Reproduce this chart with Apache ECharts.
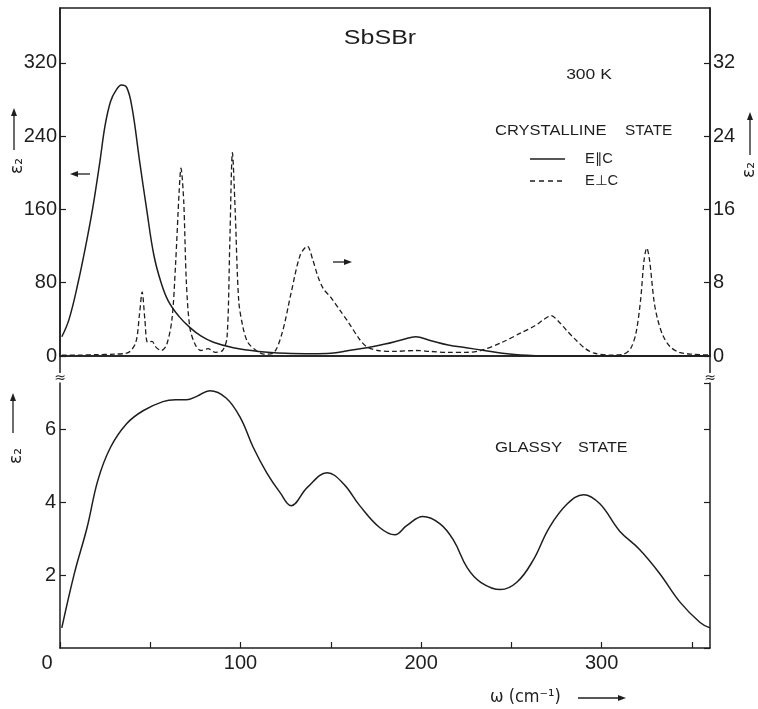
<!DOCTYPE html>
<html><head><meta charset="utf-8">
<script src="https://cdn.jsdelivr.net/npm/echarts@6.0.0/dist/echarts.min.js"></script>
<style>html,body{margin:0;padding:0;background:#fff}#c{width:758px;height:709px}</style>
</head><body><div id="c"></div>
<script>
// Crystalline E || c (left axis, eps2)
const omegaPar = [1,5,10,15,18,22,25,28,31,34,37,40,44,48,52,56,60,66,72,78,85,96,110,125,140,150,160,170,180,190,197,205,215,225,235,245,255,265,280,300,330,360];
const epsPar   = [21,40,80,128,160,211,252,278,290,296,293,270,214,160,110,80,60,43,31,22,15,9,5,3,2.5,3,6,9,13,18,21,17,12,9,6,3,1,0.3,0,0,0,0];
// Crystalline E _|_ c (right axis, eps2)
const omegaPerp = [1,10,20,30,38,42,44,45.5,47,48.5,51,53,56,59,62,64,66,67,68.5,70,72,75,78,82,86,90,92.5,94,95.5,97,99,101.5,104,108,113,118,123,128,133,137,140,143,146,150,155,160,166,170,176,185,197,205,215,225,233,245,255,263,268,272,276,281,286,291,296,305,312,316,319,321.5,323.5,325,326.5,329,331,334,338,343,350,360];
const epsPerp   = [0.1,0.1,0.15,0.2,0.4,1.5,4.5,7.0,4,1.5,1.6,1.0,0.6,1.2,4,10,18,20.5,17,8,3,1.2,0.6,0.8,0.4,0.6,2,12,22.2,16,6,3,1.5,0.7,0.2,0.3,2.5,6.9,11,12,10.5,8.6,7.3,6.4,5.0,3.6,1.8,1.0,0.6,0.5,0.6,0.5,0.4,0.4,0.6,1.5,2.5,3.3,4.0,4.4,3.8,2.7,1.7,0.8,0.3,0.1,0.2,0.8,2.5,6,10.5,11.8,10.5,6,4,2.2,1.0,0.4,0.2,0.1];
// Glassy state (bottom panel)
const omegaGlass = [1,8,15,21,28,37,46,57,64,70,76,83,92,100,107,114.5,122,128,137,148,157,166,177,185.5,192,201,210.5,218,225.5,233,244,253,262,271,281,290,299,310,321,332,343.5,354.5,360];
const epsGlass   = [0.55,2.05,3.3,4.6,5.5,6.15,6.5,6.75,6.8,6.8,6.9,7.05,6.85,6.3,5.5,4.8,4.25,3.9,4.4,4.8,4.5,3.9,3.3,3.1,3.35,3.6,3.4,2.95,2.2,1.8,1.6,1.8,2.4,3.3,3.95,4.2,3.95,3.2,2.7,2.05,1.25,0.7,0.55];
const xTickLabels = [0,100,200,300];
const leftTicksTop = [0,80,160,240,320];
const rightTicksTop = [0,8,16,24,32];
const glassTicks = [2,4,6];

const zip = (a,b)=>a.map((v,i)=>[v,b[i]]);
const INK = '#1e1e1e';
const FONT = '"Liberation Sans", Arial, sans-serif';

function arrow(x1,y1,x2,y2){
  const ang=Math.atan2(y2-y1,x2-x1), L=8, W=3;
  const bx=x2-L*Math.cos(ang), by=y2-L*Math.sin(ang);
  const px=-Math.sin(ang)*W, py=Math.cos(ang)*W;
  return [
    {type:'line',shape:{x1:x1,y1:y1,x2:bx,y2:by},style:{stroke:INK,lineWidth:1.3}},
    {type:'polygon',shape:{points:[[x2,y2],[bx+px,by+py],[bx-px,by-py]]},style:{fill:INK}}
  ];
}
function txt(x,y,s,size,opts){
  opts=opts||{};
  return {type:'text',x:x,y:y,scaleX:opts.sx||1,rotation:opts.rot||0,
    style:{text:s,fill:INK,font:(size)+'px '+(opts.font||FONT),textAlign:opts.align||'left',textVerticalAlign:'middle'}};
}

const graphics = [].concat(
  [txt(380,38,'SbSBr',20,{align:'center',sx:1.25}),
   txt(589,75,'300 K',14,{align:'center',sx:1.25}),
   txt(495,131,'CRYSTALLINE',14,{sx:1.18}),
   txt(625,131,'STATE',14,{sx:1.1}),
   {type:'line',shape:{x1:530,y1:159,x2:565,y2:159},style:{stroke:INK,lineWidth:1.4}},
   {type:'line',shape:{x1:530,y1:181,x2:565,y2:181},style:{stroke:INK,lineWidth:1.3,lineDash:[5,4]}},
   txt(585,159,'E\u2225C',14,{sx:1.05}),
   txt(585,181,'E\u22a5C',14,{sx:1.05}),
   txt(495,448,'GLASSY',14,{sx:1.2}),
   txt(578,448,'STATE',14,{sx:1.15}),
   txt(490,698,'\u03c9 (cm\u207b\u00b9)',17,{font:'"DejaVu Sans", sans-serif',sx:0.95}),
   txt(18,166,'\u03b5\u2082',17,{align:'center',rot:Math.PI/2,font:'"DejaVu Sans", sans-serif'}),
   txt(750,170,'\u03b5\u2082',17,{align:'center',rot:Math.PI/2,font:'"DejaVu Sans", sans-serif'}),
   txt(17,456,'\u03b5\u2082',17,{align:'center',rot:Math.PI/2,font:'"DejaVu Sans", sans-serif'}),
   {type:'line',shape:{x1:60,y1:356,x2:60,y2:373},style:{stroke:INK,lineWidth:1.5}},
   {type:'line',shape:{x1:710,y1:356,x2:710,y2:373},style:{stroke:INK,lineWidth:1.5}},
   txt(60,378,'\u2248',14,{align:'center',font:'"DejaVu Sans", sans-serif'}),
   txt(710,378,'\u2248',14,{align:'center',font:'"DejaVu Sans", sans-serif'})
  ],
  arrow(14,150,14,108),
  arrow(750,155,750,112),
  arrow(13,433,13,393),
  arrow(90,174,70,174),
  arrow(333,262,352,262),
  arrow(578,698,626,698)
);

const chart = echarts.init(document.getElementById('c'));
const lbl = {color:INK,fontFamily:FONT,fontSize:20};
chart.setOption({
  animation:false,
  backgroundColor:'#fff',
  grid:[
    {left:60,right:48,top:8,height:348,show:true,borderColor:INK,borderWidth:1.5,backgroundColor:'transparent'},
    {left:60,right:48,top:383,height:265}
  ],
  xAxis:[
    {type:'value',gridIndex:0,min:0,max:360,interval:50,
     axisLine:{show:true,onZero:false,lineStyle:{color:INK,width:1.5}},axisTick:{show:false},axisLabel:{show:false},splitLine:{show:false}},
    {type:'value',gridIndex:1,min:0,max:360,interval:50,
     axisLine:{show:true,onZero:false,lineStyle:{color:INK,width:1.5}},
     axisTick:{show:true,inside:true,length:6,lineStyle:{color:INK,width:1.2}},
     axisLabel:Object.assign({},lbl,{margin:5,showMaxLabel:false,
       formatter:v=> v===0 ? '{z|0}' : (xTickLabels.indexOf(v)>=0 ? String(v) : ''),
       rich:{z:{fontSize:20,fontFamily:FONT,color:INK,padding:[0,26,0,0]}}}),
     splitLine:{show:false}}
  ],
  yAxis:[
    {type:'value',gridIndex:0,position:'left',min:0,max:380,interval:80,
     axisLine:{show:true,onZero:false,lineStyle:{color:INK,width:1.5}},
     axisTick:{show:true,inside:true,length:6,lineStyle:{color:INK,width:1.2}},
     axisLabel:Object.assign({},lbl,{margin:3,showMaxLabel:false,formatter:v=>leftTicksTop.indexOf(v)>=0?String(v):''}),
     splitLine:{show:false}},
    {type:'value',gridIndex:0,position:'right',min:0,max:38,interval:8,
     axisLine:{show:true,onZero:false,lineStyle:{color:INK,width:1.5}},
     axisTick:{show:true,inside:true,length:6,lineStyle:{color:INK,width:1.2}},
     axisLabel:Object.assign({},lbl,{margin:3,showMaxLabel:false,formatter:v=>rightTicksTop.indexOf(v)>=0?String(v):''}),
     splitLine:{show:false}},
    {type:'value',gridIndex:1,position:'left',min:0,max:7.26,interval:2,
     axisLine:{show:true,onZero:false,lineStyle:{color:INK,width:1.5}},
     axisTick:{show:true,inside:true,length:6,lineStyle:{color:INK,width:1.2}},
     axisLabel:Object.assign({},lbl,{margin:4,showMaxLabel:false,showMinLabel:false,formatter:v=>glassTicks.indexOf(v)>=0?String(v):''}),
     splitLine:{show:false}},
    {type:'value',gridIndex:1,position:'right',min:0,max:7.26,interval:2,
     axisLine:{show:true,onZero:false,lineStyle:{color:INK,width:1.5}},
     axisTick:{show:true,inside:true,length:6,lineStyle:{color:INK,width:1.2}},
     axisLabel:{show:false},splitLine:{show:false}}
  ],
  series:[
    {type:'line',xAxisIndex:0,yAxisIndex:0,data:zip(omegaPar,epsPar),smooth:0.4,showSymbol:false,
     lineStyle:{color:INK,width:1.5},z:3},
    {type:'line',xAxisIndex:0,yAxisIndex:1,data:zip(omegaPerp,epsPerp),smooth:0.3,showSymbol:false,
     lineStyle:{color:INK,width:1.3,type:[5,3]},z:3},
    {type:'line',xAxisIndex:1,yAxisIndex:2,data:zip(omegaGlass,epsGlass),smooth:0.4,showSymbol:false,
     lineStyle:{color:INK,width:1.5},z:3}
  ],
  graphic:graphics
});
</script></body></html>
